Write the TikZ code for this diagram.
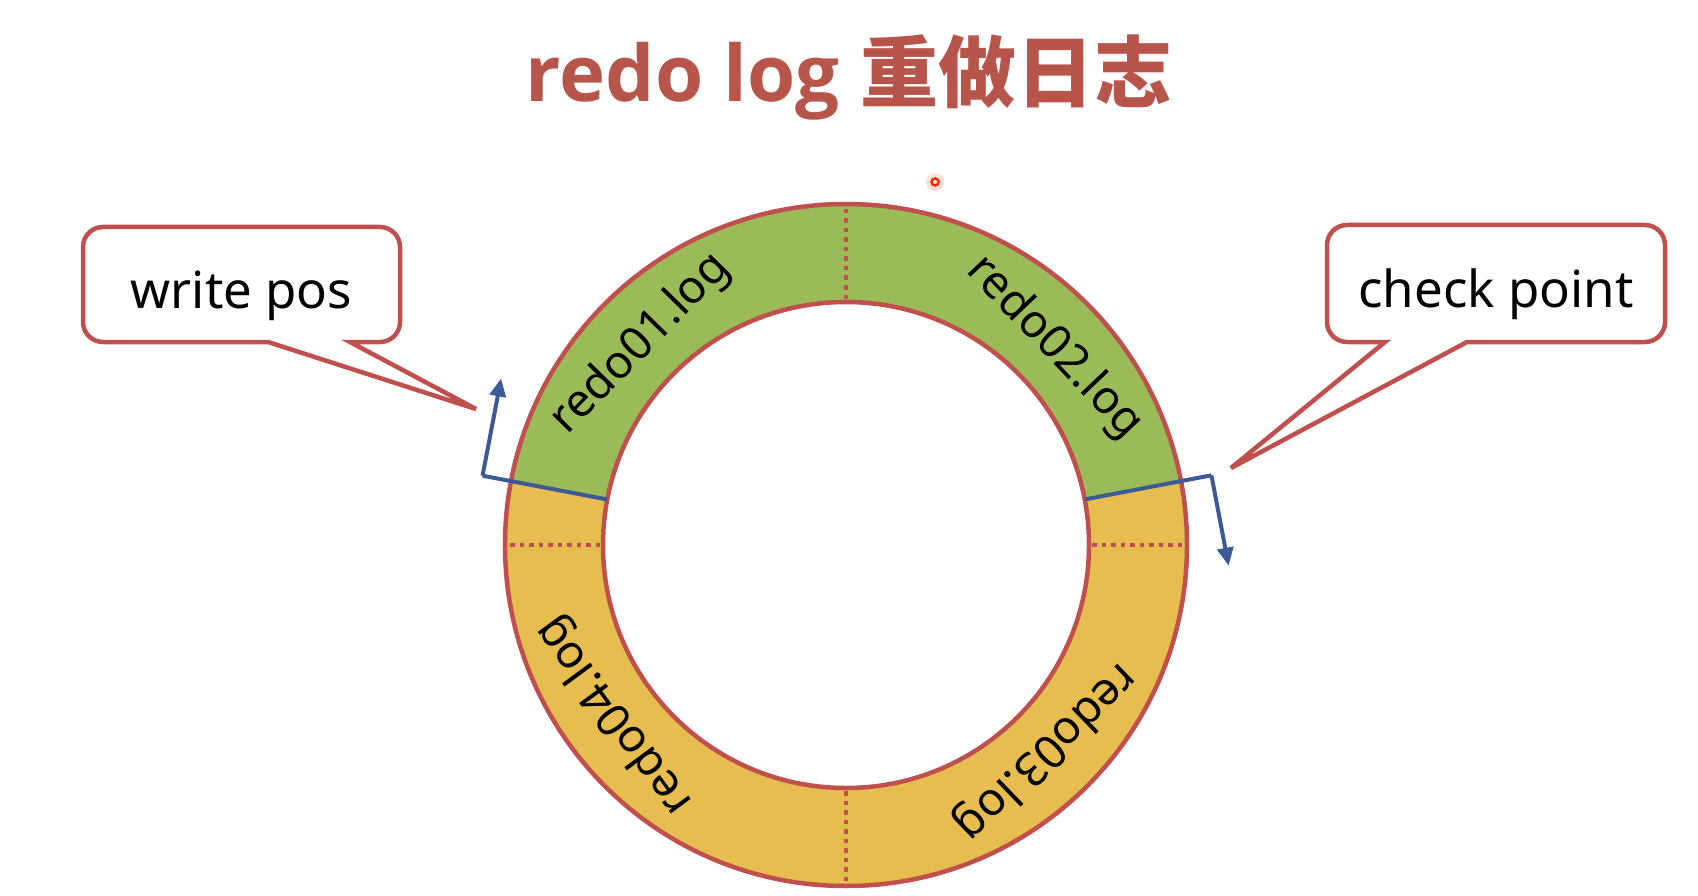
\documentclass[tikz,border=0pt]{standalone}
\usepackage{fontspec}
\setmainfont{Noto Sans}
\newfontfamily\cjkfont{Noto Sans CJK SC}
\newfontfamily\titlefont{Open Sans}
\usetikzlibrary{arrows.meta}
\definecolor{ringred}{HTML}{C0504D}
\definecolor{titlered}{HTML}{B8554B}
\definecolor{gfill}{HTML}{9BBB59}
\definecolor{ofill}{HTML}{E8BD50}
\definecolor{bline}{HTML}{3C5A96}
\tikzset{
  ringline/.style={draw=ringred, line width=4.5pt},
  divider/.style={draw=ringred, line width=4.5pt, dash pattern=on 4.5pt off 5pt},
  callout/.style={draw=ringred, line width=4.5pt, fill=white, line join=miter},
  blueline/.style={draw=bline, line width=4pt},
  bluearrow/.style={draw=bline, line width=4pt, -{Triangle[length=18pt,width=16pt]}},
  lbl/.style={font=\fontsize{46}{46}\selectfont, inner sep=0pt},
  ctext/.style={font=\fontsize{51}{51}\selectfont, inner sep=0pt, anchor=base}
}
\begin{document}
\begin{tikzpicture}[x=1pt,y=1pt]
\useasboundingbox (0,0) rectangle (1698,-896);
\fill[white] (0,0) rectangle (1698,-896);
% title
\node[anchor=base, text=titlered, inner sep=0pt] (title) at (849,-102)
  {\fontsize{78}{78}\selectfont\titlefont\bfseries redo log \cjkfont\bfseries 重做日志};
% ring
\coordinate (O) at (846,-545);
\def\Ro{341}\def\Ri{243}
\fill[gfill] ([shift={(10.8:\Ro)}]O) arc[start angle=10.8, end angle=169.2, radius=\Ro]
  -- ([shift={(169.2:\Ri)}]O) arc[start angle=169.2, end angle=10.8, radius=\Ri] -- cycle;
\fill[ofill] ([shift={(169.2:\Ro)}]O) arc[start angle=169.2, end angle=370.8, radius=\Ro]
  -- ([shift={(10.8:\Ri)}]O) arc[start angle=370.8, end angle=169.2, radius=\Ri] -- cycle;
\foreach \a in {0,90,180,270}
  \draw[divider] ([shift={(\a:\Ri+3)}]O) -- ([shift={(\a:\Ro-3)}]O);
\draw[ringline] (O) circle[radius=\Ro];
\draw[ringline] (O) circle[radius=\Ri];
% labels
\node[lbl, rotate=45.6] (r1) at ([shift={(135.6:287)}]O) {redo01.log};
\node[lbl, rotate=-46.5] (r2) at ([shift={(43.5:287)}]O) {redo02.log};
\node[lbl, rotate=-136] (r3) at ([shift={(-46:287)}]O) {redo03.log};
\node[lbl, rotate=126.4] (r4) at ([shift={(216.4:287)}]O) {redo04.log};
% write pos marker
\coordinate (wi) at ([shift={(169.2:\Ri)}]O);
\coordinate (wc) at ([shift={(169.2:370)}]O);
\coordinate (wt) at ([shift={(79.2:99)}]wc);
\draw[blueline, line cap=butt] (wi) -- (wc);
\draw[bluearrow] (wc) -- (wt);
% check point marker
\coordinate (ci) at ([shift={(10.8:\Ri)}]O);
\coordinate (cc) at ([shift={(10.8:372)}]O);
\coordinate (ct) at ([shift={(-79.2:92)}]cc);
\draw[blueline, line cap=butt] (ci) -- (cc);
\draw[bluearrow] (cc) -- (ct);
% callout write pos
\coordinate (wptip) at (476,-409);
\draw[callout] (268,-342) -- (wptip) -- (350,-342) -- (380,-342)
  arc[start angle=-90, end angle=0, radius=20] -- (400,-247)
  arc[start angle=0, end angle=90, radius=20] -- (103,-227)
  arc[start angle=90, end angle=180, radius=20] -- (83,-322)
  arc[start angle=180, end angle=270, radius=20] -- cycle;
\node[ctext] (wp) at (241.5,-308) {write pos};
% callout check point
\coordinate (cptip) at (1231,-468);
\draw[callout] (1385,-342) -- (cptip) -- (1467,-342) -- (1645,-342)
  arc[start angle=-90, end angle=0, radius=20] -- (1665,-245)
  arc[start angle=0, end angle=90, radius=20] -- (1347,-225)
  arc[start angle=90, end angle=180, radius=20] -- (1327,-322)
  arc[start angle=180, end angle=270, radius=20] -- cycle;
\node[ctext] (cp) at (1496,-307) {check point};
% pointer dot
\fill[red!60!orange, opacity=0.15] (935,-182) circle[radius=9];
\draw[red!70!orange, line width=2.5pt, fill=white] (935,-182) circle[radius=3.5];
\end{tikzpicture}
\end{document}
